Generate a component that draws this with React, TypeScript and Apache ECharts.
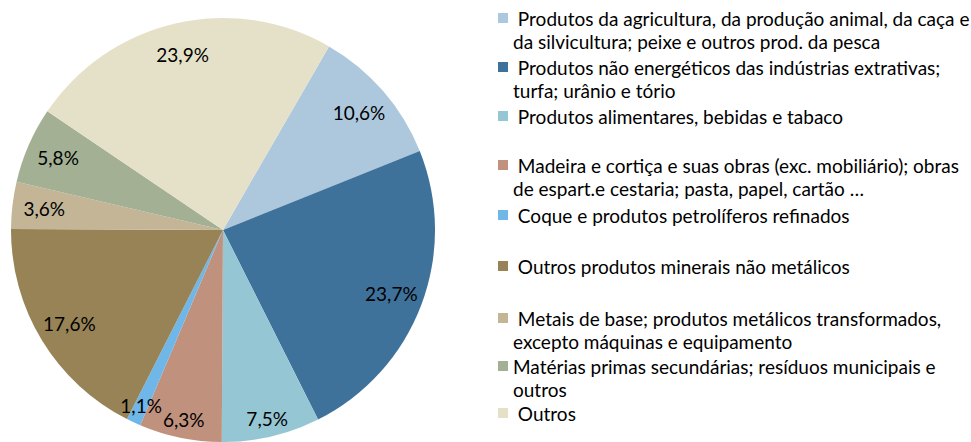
import React, { useEffect, useRef } from "react";
import * as echarts from "echarts";

const categories = [
  " Produtos da agricultura, da produção animal, da caça e\nda silvicultura; peixe e outros prod. da pesca",
  " Produtos não energéticos das indústrias extrativas;\nturfa; urânio e tório",
  " Produtos alimentares, bebidas e tabaco",
  " Madeira e cortiça e suas obras (exc. mobiliário); obras\nde espart.e cestaria; pasta, papel, cartão …",
  " Coque e produtos petrolíferos refinados",
  " Outros produtos minerais não metálicos",
  " Metais de base; produtos metálicos transformados,\nexcepto máquinas e equipamento",
  "Matérias primas secundárias; resíduos municipais e\noutros",
  " Outros",
];
const shares = [10.6, 23.7, 7.5, 6.3, 1.1, 17.6, 3.6, 5.8, 23.9];
const colors = [
  "#ADC8DD",
  "#3F729B",
  "#95C6D3",
  "#C0927E",
  "#6FB7E8",
  "#978356",
  "#C4B597",
  "#A3B094",
  "#E5E1C8",
];
// slices whose labels sit nearer the rim
const outerLabelIdx = [2, 3, 4];
const legendCenters = [18, 67, 116, 165, 215, 266, 318, 366, 413];

const FONT = "Lato";
const FS = 19;
const LH = 23;

export default function App() {
  const ref = useRef<HTMLDivElement>(null);
  useEffect(() => {
    if (!ref.current) return;
    const chart = echarts.init(ref.current, undefined, { renderer: "svg" });
    const fmt = (p: any) => p.value.toFixed(1).replace(".", ",") + "%";
    const pieData = categories.map((name, i) => ({
      name,
      value: shares[i],
      itemStyle: { color: colors[i] },
    }));
    const labelData = (outer: boolean) =>
      categories.map((name, i) => {
        const isOuter = outerLabelIdx.includes(i);
        return {
          name,
          value: shares[i],
          label: { show: outer ? isOuter : !isOuter },
        };
      });
    const legends = categories.map((name, i) => {
      const twoLine = name.includes("\n");
      const top = legendCenters[i] - (twoLine ? LH * 1.5 : LH / 2);
      return {
        show: true,
        orient: "vertical",
        left: 498,
        top,
        padding: 0,
        itemWidth: 10,
        itemHeight: 10,
        icon: "rect",
        selectedMode: false,
        formatter: (n: string) => (twoLine ? "\n" + n : n),
        textStyle: {
          fontFamily: FONT,
          fontSize: FS,
          lineHeight: LH,
          color: "#000",
        },
        data: [name],
      };
    });
    const labelSeries = (outer: boolean) => ({
      type: "pie",
      center: [223, 230],
      radius: outer ? [170, 212] : [142, 212],
      startAngle: 60,
      silent: true,
      itemStyle: { color: "transparent", borderWidth: 0 },
      label: {
        show: true,
        position: "inside",
        formatter: fmt,
        fontFamily: FONT,
        fontSize: FS,
        color: "#000",
      },
      labelLine: { show: false },
      emphasis: { disabled: true },
      data: labelData(outer),
    });
    chart.setOption({
      animation: false,
      legend: legends,
      series: [
        {
          type: "pie",
          center: [223, 230],
          radius: 212,
          startAngle: 60,
          silent: true,
          label: { show: false },
          labelLine: { show: false },
          itemStyle: { borderWidth: 0 },
          emphasis: { disabled: true },
          data: pieData,
        },
        labelSeries(false),
        labelSeries(true),
      ],
    });
    return () => chart.dispose();
  }, []);
  return (
    <div
      ref={ref}
      style={{ position: "fixed", left: 0, top: 0, width: 971, height: 442, background: "#fff" }}
    />
  );
}
